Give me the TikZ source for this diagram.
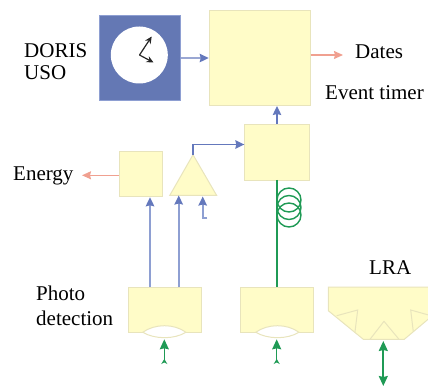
\documentclass[tikz,border=0pt]{standalone}
\usepackage{fontspec}
\setmainfont{Liberation Serif}
\usetikzlibrary{arrows.meta}
\definecolor{boxfill}{HTML}{FFFCC8}
\definecolor{boxline}{HTML}{E8E4BC}
\definecolor{clockblue}{HTML}{6478B4}
\definecolor{lineblue}{HTML}{6478BC}
\definecolor{softblue}{HTML}{8E9FD2}
\definecolor{pinkline}{HTML}{F0A090}
\definecolor{greenline}{HTML}{1F9A55}
\tikzset{
  x=1pt,y=-1pt,
  yellowbox/.style={draw=boxline,fill=boxfill,line width=1pt,inner sep=0pt,anchor=north west},
  label text/.style={inner sep=0pt,font=\fontsize{21}{24}\selectfont,anchor=west},
  bluearrow/.style={draw=lineblue,line width=1.4pt,-{Stealth[length=9pt,width=8.5pt,inset=1pt]}},
  softarrow/.style={draw=softblue,line width=1.9pt,-{Stealth[length=9pt,width=8.5pt,inset=1pt,color=lineblue]}},
  pinkarrow/.style={draw=pinkline,line width=1.4pt,-{Stealth[length=9pt,width=8pt,inset=1pt]}},
  greenarrow/.style={draw=greenline,line width=1.5pt,{Stealth[length=5pt,width=6pt,reversed]}-{Stealth[length=10pt,width=9pt,inset=1pt]}},
  greenboth/.style={draw=greenline,line width=1.7pt,{Stealth[length=10pt,width=9pt,inset=1pt]}-{Stealth[length=10pt,width=9pt,inset=1pt]}},
  fibre/.style={draw=greenline,line width=1.4pt},
  inner edge/.style={draw=boxline,line width=1pt,line join=miter},
  lens/.style={draw=boxline,fill=white,line width=1pt},
}
\begin{document}
\begin{tikzpicture}
\useasboundingbox (0,0) rectangle (428,387);
\clip (0,0) rectangle (428,387);

% clock
\node[draw=softblue,fill=clockblue,line width=.8pt,inner sep=0pt,anchor=north west,minimum width=81.5pt,minimum height=85pt] (clock) at (98.5,15) {};
\node[circle,fill=white,draw=none,inner sep=0pt,minimum size=57pt] (face) at (139.3,55) {};
\coordinate (hub) at (139.5,55);
\coordinate (handA) at (151.7,36.5);
\coordinate (handB) at (153.5,62.5);
\draw[line width=1.2pt,black!85,-{Stealth[length=7pt,width=6.5pt]}] (hub) -- (handA);
\draw[line width=1.2pt,black!85,-{Stealth[length=7pt,width=6.5pt]}] (hub) -- (handB);

% boxes
\node[yellowbox,minimum width=101pt,minimum height=94.7pt] (timer) at (208.7,10.3) {};
\node[yellowbox,minimum width=64.4pt,minimum height=56pt] (small) at (244.3,124) {};
\node[yellowbox,minimum width=43pt,minimum height=45pt] (energybox) at (119,151.3) {};
\node[yellowbox,minimum width=72.4pt,minimum height=45.3pt] (photoA) at (128.3,287) {};
\node[yellowbox,minimum width=72.4pt,minimum height=45.3pt] (photoB) at (240.3,287) {};

% amplifier
\coordinate (apex) at (193,154.7);
\coordinate (ampL) at (169.7,195.5);
\coordinate (ampR) at (216.7,195.5);
\path[draw=boxline,fill=boxfill,line width=1pt] (apex) -- (ampL) -- (ampR) -- cycle;

% lenses
\path[lens] (142.7,332.3) .. controls (155,323.5) and (174,323.5) .. (186,332.3) .. controls (174,339.5) and (155,339.5) .. (142.7,332.3) -- cycle;
\path[lens] (255.7,332.3) .. controls (268,323.5) and (287,323.5) .. (299,332.3) .. controls (287,339.5) and (268,339.5) .. (255.7,332.3) -- cycle;

% LRA
\path[draw=boxline,fill=boxfill,line width=1pt] (328.3,287) -- (438.3,287) -- (438.3,310.7) -- (404.3,339.3) -- (363.3,339.3) -- (328.3,310.7) -- cycle;
\draw[inner edge] (336.7,315.7) -- (357.7,310) -- (355,331.7);
\draw[inner edge] (370,339.3) -- (384,321.3) -- (399,339.3);
\draw[inner edge] (413.3,331.7) -- (410.7,310) -- (431,315.7);

% text
\node[label text,anchor=base west] (doris) at (24,58) {DORIS};
\node[label text,anchor=base west] (uso) at (24,80) {USO};
\node[label text] (dates) at (355,52) {Dates};
\node[label text] (evt) at (325,93) {Event timer};
\node[label text] (energy) at (13,176) {Energy};
\node[label text] (photo) at (36,293) {Photo};
\node[label text] (detect) at (36,318) {detection};
\node[label text] (lra) at (369,268) {LRA};

% connectors
\draw[bluearrow] (clock) -- (timer);
\draw[bluearrow] (small.north) -- (small.north |- timer.south);
\coordinate (tOut) at (timer.east |- 0,55);
\coordinate (datesTip) at (343,55);
\draw[pinkarrow] (tOut) -- (datesTip);
\coordinate (energyTip) at (82,175.3);
\coordinate (eOut) at (energybox.west |- energyTip);
\draw[pinkarrow] (eOut) -- (energyTip);
\coordinate (smallIn) at (small.west |- 0,144.5);
\draw[bluearrow] (apex) -- (apex |- smallIn) -- (smallIn);
\coordinate (pA1) at (150,287);
\coordinate (pA2) at (178.7,287);
\draw[softarrow] (pA1) -- (pA1 |- energybox.south);
\draw[softarrow] (pA2) -- (pA2 |- ampL);
\coordinate (bias) at (207.3,218);
\coordinate (biasTip) at (202.7,196.5);
\draw[softarrow] (bias) -- (biasTip |- bias) -- (biasTip);

% fibre
\coordinate (sBot) at (277,180);
\coordinate (pB) at (277,287);
\draw[fibre] (sBot) -- (pB);
\node[circle,fibre,inner sep=0pt,minimum size=24pt] (c1) at (289,200) {};
\node[circle,fibre,inner sep=0pt,minimum size=24pt] (c2) at (289,207.5) {};
\node[circle,fibre,inner sep=0pt,minimum size=24pt] (c3) at (289,215) {};

% green arrows
\coordinate (g1a) at (164.3,364);
\coordinate (g1b) at (164.3,339.3);
\coordinate (g2a) at (276.7,364);
\coordinate (g2b) at (276.7,339.3);
\coordinate (g3a) at (383.3,341);
\coordinate (g3b) at (383.3,386);
\draw[greenarrow] (g1a) -- (g1b);
\draw[greenarrow] (g2a) -- (g2b);
\draw[greenboth] (g3a) -- (g3b);
\end{tikzpicture}
\end{document}
